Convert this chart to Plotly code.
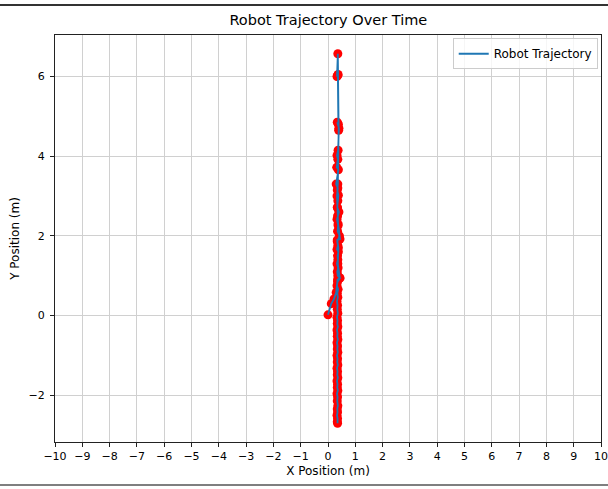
import plotly.graph_objects as go

# Trajectory samples (m), in time order
x_pos = [0.00, 0.12, 0.22, 0.30, 0.35, 0.43, 0.36, 0.38, 0.34, 0.44, 0.37, 0.35, 0.33, 0.36, 0.30,
         0.38, 0.32, 0.36, 0.33, 0.37, 0.40, 0.34, 0.38, 0.36, 0.33, 0.36,
         0.37, 0.39, 0.36, 0.34, 0.38, 0.36, 0.34, 0.40, 0.35, 0.33, 0.37, 0.35, 0.42, 0.34, 0.36,
         0.33, 0.38, 0.35, 0.36, 0.33, 0.37, 0.34, 0.36, 0.44, 0.35, 0.33, 0.37, 0.34, 0.36, 0.33,
         0.35, 0.34, 0.36, 0.33, 0.35, 0.34, 0.36, 0.33, 0.35, 0.34, 0.36, 0.33, 0.35, 0.34, 0.36,
         0.33, 0.35, 0.34, 0.36, 0.33, 0.35, 0.34, 0.36, 0.33, 0.35, 0.34, 0.36, 0.33, 0.35, 0.34,
         0.36, 0.34, 0.35, 0.33, 0.35, 0.34, 0.35]
y_pos = [0.02, 0.30, 0.42, 0.58, 0.90, 0.95, 1.30, 1.70, 1.90, 1.92, 2.30, 2.70, 3.00, 3.20, 3.30,
         3.66, 3.72, 3.92, 4.02, 4.15, 4.70, 4.85, 4.80, 6.03, 6.00, 6.57,
         6.05, 4.65, 3.30, 3.15, 3.02, 2.88, 2.72, 2.60, 2.50, 2.42, 2.26, 2.12, 2.00, 1.86, 1.76,
         1.66, 1.60, 1.50, 1.40, 1.30, 1.20, 1.10, 1.00, 0.94, 0.85, 0.75, 0.66, 0.56, 0.46, 0.36,
         0.26, 0.16, 0.06, -0.04, -0.12, -0.20, -0.28, -0.36, -0.44, -0.52, -0.60, -0.68, -0.76, -0.84, -0.92,
         -1.00, -1.08, -1.16, -1.24, -1.32, -1.40, -1.48, -1.56, -1.64, -1.72, -1.80, -1.88, -1.96, -2.04, -2.14,
         -2.26, -2.34, -2.42, -2.50, -2.58, -2.66, -2.70]

x_ticks = list(range(-10, 11))
y_ticks = [-2, 0, 2, 4, 6]

font = "DejaVu Sans, sans-serif"

fig = go.Figure()
fig.add_trace(go.Scatter(x=x_pos, y=y_pos, mode="markers",
                         marker=dict(color="red", size=9, line=dict(width=0)),
                         showlegend=False, hoverinfo="skip"))
fig.add_trace(go.Scatter(x=x_pos, y=y_pos, mode="lines", name="Robot Trajectory",
                         line=dict(color="#1f77b4", width=1.8)))

axis_common = dict(showgrid=True, gridcolor="#d0d0d0", gridwidth=1,
                   showline=True, linecolor="#222222", linewidth=1, mirror=True,
                   ticks="outside", ticklen=4, tickcolor="#222222", tickwidth=1,
                   zeroline=False, ticklabeloverflow="allow", automargin=False,
                   tickfont=dict(family=font, size=11, color="black"))

fig.update_layout(
    width=608, height=489,
    margin=dict(l=55, r=7, t=35, b=47),
    paper_bgcolor="white", plot_bgcolor="white",
    font=dict(family=font, size=12, color="black"),
    title=dict(text="Robot Trajectory Over Time", x=0.54, xanchor="center",
               y=1 - 20 / 489, yanchor="middle",
               font=dict(family=font, size=14.5, color="black")),
    xaxis=dict(range=[-10, 10], tickmode="array", tickvals=x_ticks,
               title=dict(text="X Position (m)", font=dict(family=font, size=12), standoff=4),
               **axis_common),
    yaxis=dict(range=[-3.17, 7.04], tickmode="array", tickvals=y_ticks,
               ticklabelstandoff=3,
               title=dict(text="Y Position (m)", font=dict(family=font, size=12), standoff=6),
               **axis_common),
    legend=dict(x=0.994, y=0.992, xanchor="right", yanchor="top",
                bgcolor="rgba(255,255,255,0.8)", bordercolor="#cccccc", borderwidth=1,
                font=dict(family=font, size=12, color="black")),
    showlegend=True,
)

# Separator lines at top and bottom of the picture
fig.add_shape(type="line", xref="paper", yref="paper", x0=-55/546, x1=1 + 7/546,
              y0=1 + 30/407, y1=1 + 30/407, line=dict(color="#333333", width=2))
fig.add_shape(type="line", xref="paper", yref="paper", x0=-55/546, x1=1 + 7/546,
              y0=-43/407, y1=-43/407, line=dict(color="#555555", width=1.5))

fig.write_html("out.html")
